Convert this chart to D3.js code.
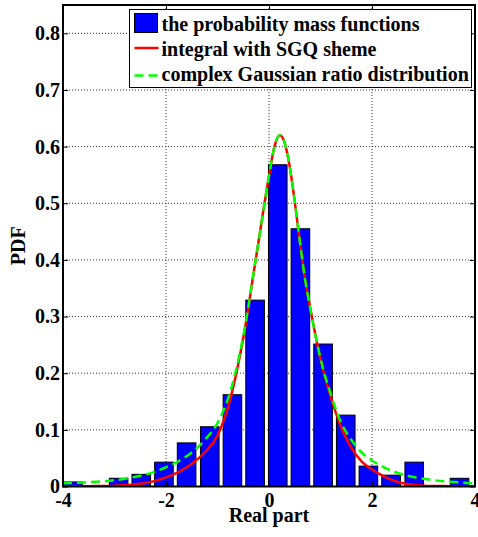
<!DOCTYPE html>
<html>
<head>
<meta charset="utf-8">
<script src="https://cdn.jsdelivr.net/npm/d3@7"></script>
<style>
  body { margin: 0; background: #fff; }
  text { font-family: "Liberation Serif", "Times New Roman", serif; font-weight: bold; }
</style>
</head>
<body>
<div id="chart"></div>
<script>
// histogram bins (centers) and heights
var binCenters = [-3.80, -3.36, -2.92, -2.48, -2.04, -1.60, -1.15, -0.71, -0.27, 0.17, 0.61, 1.05, 1.49, 1.93, 2.37, 2.82, 3.26, 3.70];
var pmfValues  = [0.008, 0, 0.0145, 0.0215, 0.043, 0.077, 0.1055, 0.162, 0.329, 0.568, 0.455, 0.2515, 0.126, 0.036, 0.020, 0.043, 0, 0.0145];
var binWidth = 0.4405;

// curves
var curveX      = [-4, -3.5, -3, -2.5, -2.25, -2, -1.75, -1.5, -1.25, -1, -0.75, -0.5, -0.25, 0, 0.1, 0.21, 0.3, 0.4, 0.5, 0.6, 0.7, 0.8, 0.9, 1.0, 1.2, 1.4, 1.6, 1.8, 2.0, 2.25, 2.5, 2.75, 3, 3.5, 4];
var sgqValues   = [0.0003, 0.0006, 0.0015, 0.005, 0.009, 0.016, 0.026, 0.040, 0.060, 0.090, 0.155, 0.262, 0.405, 0.548, 0.598, 0.620, 0.608, 0.566, 0.503, 0.432, 0.366, 0.315, 0.268, 0.225, 0.158, 0.105, 0.068, 0.044, 0.030, 0.017, 0.008, 0.0035, 0.0015, 0.0006, 0.0003];
var ratioValues = [0.0056, 0.0075, 0.011, 0.019, 0.025, 0.034, 0.045, 0.060, 0.082, 0.112, 0.168, 0.265, 0.405, 0.548, 0.598, 0.620, 0.608, 0.566, 0.503, 0.432, 0.366, 0.315, 0.268, 0.226, 0.163, 0.113, 0.082, 0.060, 0.046, 0.033, 0.024, 0.0175, 0.0135, 0.0085, 0.0056];

var xTicks = [-4, -2, 0, 2, 4];
var yTicks = [0, 0.1, 0.2, 0.3, 0.4, 0.5, 0.6, 0.7, 0.8];
var legendLabels = ["the probability mass functions", "integral with SGQ sheme", "complex Gaussian ratio distribution"];

var margin = {top: 5, right: 3, bottom: 50.5, left: 63};
var width = 478 - margin.left - margin.right;
var height = 537 - margin.top - margin.bottom;

var svg = d3.select("#chart").append("svg")
    .attr("width", 478)
    .attr("height", 537)
    .append("g")
    .attr("transform", "translate(" + margin.left + "," + margin.top + ")");

var xScale = d3.scaleLinear().domain([-4, 4]).range([0, width]);
var yScale = d3.scaleLinear().domain([0, 0.85]).range([height, 0]);

// grid
svg.append("g").selectAll("line").data(xTicks).enter().append("line")
    .attr("x1", function(d) { return xScale(d); })
    .attr("x2", function(d) { return xScale(d); })
    .attr("y1", 0).attr("y2", height)
    .attr("stroke", "#333").attr("stroke-width", 1).attr("stroke-dasharray", "1,2");
svg.append("g").selectAll("line").data(yTicks).enter().append("line")
    .attr("y1", function(d) { return yScale(d); })
    .attr("y2", function(d) { return yScale(d); })
    .attr("x1", 0).attr("x2", width)
    .attr("stroke", "#333").attr("stroke-width", 1).attr("stroke-dasharray", "1,2");

svg.append("defs").append("clipPath").attr("id", "plotClip")
    .append("rect").attr("width", width).attr("height", height);

var plot = svg.append("g").attr("clip-path", "url(#plotClip)");

// bars
var barW = xScale(binWidth * 0.82) - xScale(0);
plot.append("g").selectAll("rect")
    .data(pmfValues.map(function(v, i) { return {x: binCenters[i], y: v}; }).filter(function(d) { return d.y > 0; }))
    .enter().append("rect")
    .attr("x", function(d) { return xScale(d.x) - barW / 2; })
    .attr("width", barW)
    .attr("y", function(d) { return yScale(d.y); })
    .attr("height", function(d) { return yScale(0) - yScale(d.y); })
    .attr("fill", "#0000ff")
    .attr("stroke", "#000")
    .attr("stroke-width", 1);

var line = d3.line()
    .curve(d3.curveMonotoneX)
    .x(function(d) { return xScale(d[0]); })
    .y(function(d) { return yScale(d[1]); });

plot.append("path")
    .datum(curveX.map(function(x, i) { return [x, sgqValues[i]]; }))
    .attr("d", line)
    .attr("fill", "none").attr("stroke", "#ff0000").attr("stroke-width", 2.5);

plot.append("path")
    .datum(curveX.map(function(x, i) { return [x, ratioValues[i]]; }))
    .attr("d", line)
    .attr("fill", "none").attr("stroke", "#00ff00").attr("stroke-width", 2.5)
    .attr("stroke-dasharray", "9,5");

// axes (ticks pointing inward, box on) - plain hyphen for negatives like the original
var xAxis = svg.append("g").attr("transform", "translate(0," + height + ")")
    .call(d3.axisBottom(xScale).tickValues(xTicks).tickSize(-5).tickPadding(6).tickFormat(function(d) { return String(d); }));
var yAxis = svg.append("g")
    .call(d3.axisLeft(yScale).tickValues(yTicks).tickSize(-5).tickPadding(3).tickFormat(function(d) { return d === 0 ? "0" : d.toFixed(1); }));
svg.append("g")
    .call(d3.axisTop(xScale).tickValues(xTicks).tickSize(-5).tickFormat(""));
svg.append("g").attr("transform", "translate(" + width + ",0)")
    .call(d3.axisRight(yScale).tickValues(yTicks).tickSize(-5).tickFormat(""));

svg.selectAll(".domain").remove();
svg.selectAll(".tick line").attr("stroke", "#000").attr("stroke-width", 1);
svg.selectAll(".tick text").attr("font-size", 20).attr("fill", "#000")
    .style("font-family", "'Liberation Serif', serif").style("font-weight", "bold");

svg.append("rect")
    .attr("width", width).attr("height", height)
    .attr("fill", "none").attr("stroke", "#000").attr("stroke-width", 2);

// axis labels
svg.append("text")
    .attr("x", width / 2).attr("y", height + 35.5)
    .attr("text-anchor", "middle").attr("font-size", 20)
    .text("Real part");
svg.append("text")
    .attr("transform", "translate(-38," + (height / 2) + ")rotate(-90)")
    .attr("text-anchor", "middle").attr("font-size", 20)
    .text("PDF");

// legend
var legend = svg.append("g").attr("transform", "translate(" + (129.5 - margin.left) + "," + (9.5 - margin.top) + ")");
legend.append("rect")
    .attr("width", 342).attr("height", 78)
    .attr("fill", "#fff").attr("stroke", "#000").attr("stroke-width", 1);
legend.append("rect")
    .attr("x", 5).attr("y", 4).attr("width", 23).attr("height", 19)
    .attr("fill", "#0000ff").attr("stroke", "#000").attr("stroke-width", 1);
legend.append("line")
    .attr("x1", 5).attr("x2", 29).attr("y1", 38.5).attr("y2", 38.5)
    .attr("stroke", "#ff0000").attr("stroke-width", 2.5);
legend.append("line")
    .attr("x1", 5).attr("x2", 29).attr("y1", 66).attr("y2", 66)
    .attr("stroke", "#00ff00").attr("stroke-width", 2.5).attr("stroke-dasharray", "9,5");
legend.selectAll("text.lbl").data(legendLabels).enter().append("text")
    .attr("class", "lbl")
    .attr("x", 32)
    .attr("y", function(d, i) { return 21 + i * 25.3; })
    .attr("font-size", 20)
    .text(function(d) { return d; });
</script>
</body>
</html>
